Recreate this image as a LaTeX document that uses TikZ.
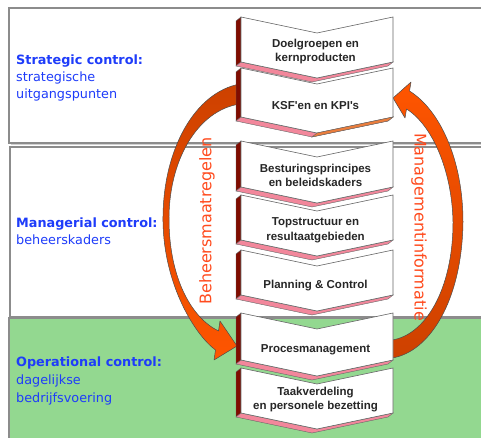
\documentclass[tikz,border=0pt]{standalone}
\usepackage{fontspec}
\setmainfont{Liberation Sans}
\newfontfamily\comicfont{DejaVu Sans}
\definecolor{bandgreen}{RGB}{147,216,144}
\definecolor{bandgray}{RGB}{140,140,140}
\definecolor{labelblue}{RGB}{30,60,250}
\definecolor{arrowbright}{RGB}{255,85,0}
\definecolor{arrowdark}{RGB}{205,65,0}
\definecolor{chevred}{RGB}{128,12,0}
\definecolor{chevpink}{RGB}{242,135,155}
\definecolor{chevorange}{RGB}{235,125,60}
\definecolor{textorange}{RGB}{255,75,30}
\tikzset{
  band/.style={draw=bandgray, line width=1.2pt},
  bandshadow/.style={fill=black!18},
  chevface/.style={fill=white, draw=black!60, line width=0.6pt},
  chevside/.style={fill=chevred, draw=black!60, line width=0.4pt},
  chevbottom/.style={fill=chevpink, draw=black!60, line width=0.4pt},
  chevtext/.style={font=\bfseries\fontsize{11.5}{14.5}\selectfont, align=center, text=black!85, inner sep=0pt},
  lbl/.style={font=\comicfont\fontsize{12.8}{17}\selectfont, text=labelblue, align=left, anchor=west, inner sep=0pt},
  vlabel/.style={font=\comicfont\fontsize{16}{18}\selectfont, text=textorange, inner sep=0pt},
  bigarrow/.style={draw=black!70, line width=0.5pt, line join=round},
}
\newcommand\chevshape[2]{%
  \pgfmathsetmacro\ct{#1}\pgfmathsetmacro\cb{#1+#2}%
  \path[chevside] (241,\ct) -- (241,\cb) -- (236,\cb+4) -- (236,\ct+4) -- cycle;
  \path[chevbottom] (241,\cb) -- (317,\cb+16) -- (393,\cb) -- (388,\cb+4) -- (312,\cb+20) -- (236,\cb+4) -- cycle;
  \path[chevface] (241,\ct) -- (317,\ct+16) -- (393,\ct) -- (393,\cb) -- (317,\cb+16) -- (241,\cb) -- cycle;
}
\begin{document}
\begin{tikzpicture}[x=1pt,y=-1pt]
\useasboundingbox (0,0) rectangle (481,438);
% bands
\fill[bandshadow] (11,10) rectangle (490,145.5);
\path[band, fill=white] (9,8) rectangle (490,143);
\fill[bandshadow] (12,149) rectangle (490,319);
\path[band, fill=white] (10,147) rectangle (490,316.5);
\path[band, fill=bandgreen] (9,318) rectangle (490,450);
% left arrow
\path[bigarrow, top color=arrowdark, bottom color=arrowbright]
  (240,84) .. controls (195,92) and (162,150) .. (163,222)
  .. controls (164,285) and (195,335) .. (215.5,350)
  -- (214,360) -- (237,346) -- (220,321) -- (218.5,331)
  .. controls (192,318) and (170,280) .. (169,222)
  .. controls (168,160) and (198,110) .. (240,104) -- cycle;
% right arrow
\path[bigarrow, top color=arrowbright, bottom color=arrowdark]
  (392,358) .. controls (430,352) and (462,300) .. (463,222)
  .. controls (463,160) and (440,110) .. (409.5,91)
  -- (411,82) -- (393,98) -- (405,118) -- (406.5,109)
  .. controls (432,125) and (452,170) .. (453,222)
  .. controls (453,290) and (425,335) .. (392,340) -- cycle;
% chevrons, bottom to top
\chevshape{368}{45}
\chevshape{313}{47}
\chevshape{250}{45}
\chevshape{195}{45}
\chevshape{141}{46}
\chevshape{68}{49}
\path[chevbottom, fill=chevorange] (317,133) -- (393,117) -- (388,121) -- (312,137) -- cycle;
\chevshape{17}{45}
% chevron texts
\node[chevtext] (c1) at (315.5,51.5) {Doelgroepen en\\kernproducten};
\node[chevtext] (c2) at (315.5,106) {KSF\textquotesingle en en KPI\textquotesingle s};
\node[chevtext] (c3) at (315.5,175.5) {Besturingsprincipes\\en beleidskaders};
\node[chevtext] (c4) at (315.5,230.5) {Topstructuur en\\resultaatgebieden};
\node[chevtext] (c5) at (315.5,286) {Planning \& Control};
\node[chevtext] (c6) at (315.5,350) {Procesmanagement};
\node[chevtext] (c7) at (315.5,399.5) {Taakverdeling\\en personele bezetting};
% vertical labels
\node[vlabel, rotate=90] (beh) at (207,221) {Beheersmaatregelen};
\node[vlabel, rotate=-90] (man) at (419,227) {Managementinformatie};
% band labels
\node[lbl] (strat) at (16,78) {\textbf{Strategic control:}\\strategische\\uitgangspunten};
\node[lbl] (manag) at (16,231.5) {\textbf{Managerial control:}\\beheerskaders};
\node[lbl, font=\comicfont\fontsize{12.8}{18}\selectfont] (oper) at (16,381) {\textbf{Operational control:}\\dagelijkse\\bedrijfsvoering};
\end{tikzpicture}
\end{document}
